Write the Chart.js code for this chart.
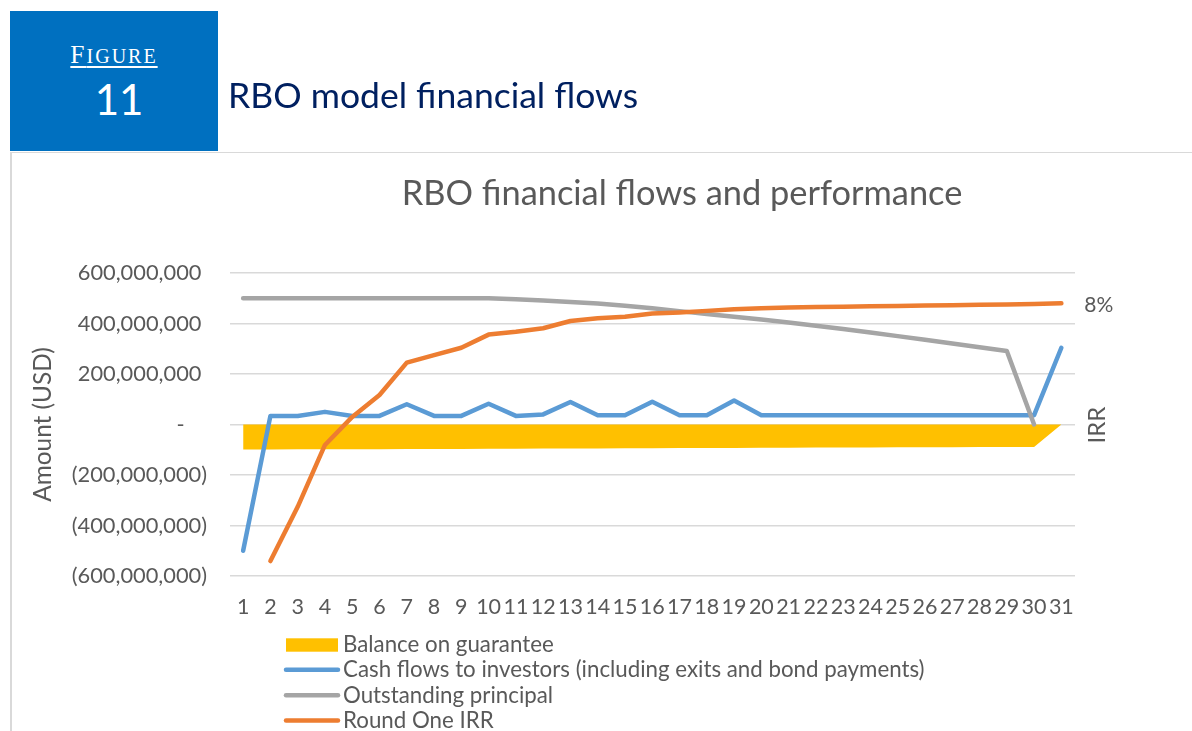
<!DOCTYPE html>
<html>
<head>
<meta charset="utf-8">
<script src="https://cdn.jsdelivr.net/npm/chart.js@4.4.1/dist/chart.umd.min.js"></script>
<style>
  html, body { margin: 0; padding: 0; background: #fff; width: 1192px; height: 731px; overflow: hidden; }
  #chart { position: absolute; left: 0; top: 0; }
  #box { position: absolute; left: 10px; top: 11px; width: 208px; height: 140px; background: #0070C0; z-index: 2; }
  #fig { position: absolute; left: 0; top: 29px; width: 208px; text-align: center; color: #fff;
         font-family: 'Liberation Serif', serif; font-size: 25.5px; line-height: 1.15; letter-spacing: 2px; }
  #fig span.u { text-decoration: underline; text-underline-offset: 3px; text-decoration-thickness: 2px; }
  #fig .sc { font-size: 20px; }
  #num { position: absolute; left: 0; top: 63px; width: 208px; text-align: center; color: #fff; padding-left: 10px; box-sizing: border-box;
         font-family: Lato, sans-serif; font-size: 42px; line-height: 1.2; }
  #head { position: absolute; left: 228px; top: 74.3px; color: #002060; font-family: Lato, sans-serif; font-size: 35.5px; line-height: 1.2; z-index: 2; white-space: nowrap; }
  #hline { position: absolute; left: 10px; top: 151.5px; width: 1182px; height: 1.5px; background: #D9D9D9; z-index: 2; }
  #vline { position: absolute; left: 10px; top: 152px; width: 1.5px; height: 579px; background: #D9D9D9; z-index: 2; }
</style>
</head>
<body>
<div id="box">
  <div id="fig"><span class="u">F<span class="sc">IGURE</span></span></div>
  <div id="num">11</div>
</div>
<div id="head">RBO model financial flows</div>
<div id="hline"></div>
<div id="vline"></div>
<canvas id="chart" width="1192" height="731"></canvas>
<script>
// ---- Data ----
const years = ['1','2','3','4','5','6','7','8','9','10','11','12','13','14','15','16','17','18','19','20','21','22','23','24','25','26','27','28','29','30','31'];

// USD millions
const balanceOnGuarantee = [-99, -99, -98.5, -98.5, -98, -98, -97.5, -97, -97, -96.5, -96, -95.5, -95.5, -95, -94.5, -94, -93.5, -93.5, -93, -92.5, -92, -91.5, -91.5, -91, -90.5, -90.5, -90, -89.5, -89, -89, 0];
const cashFlowsToInvestors = [-500, 34, 34, 50, 34, 34, 80, 34, 34, 82, 34, 40, 89, 37, 37, 90, 37, 37, 95, 37, 37, 37, 37, 37, 37, 37, 37, 37, 37, 37, 304];
const outstandingPrincipal = [500, 500, 500, 500, 500, 500, 500, 500, 500, 500, 496, 491, 485, 479, 470, 460, 449, 438, 427, 416, 404, 391, 378, 364, 350, 336, 321, 306, 291, 0, null];
// IRR as a fraction (secondary axis)
const roundOneIRR = [null, -0.941, -0.726, -0.481, -0.370, -0.283, -0.155, -0.125, -0.096, -0.044, -0.033, -0.019, 0.010, 0.021, 0.027, 0.040, 0.044, 0.050, 0.056, 0.060, 0.063, 0.065, 0.066, 0.068, 0.069, 0.071, 0.072, 0.074, 0.075, 0.077, 0.080];

const amountTicks = [-600, -400, -200, 0, 200, 400, 600]; // USD millions

const seriesNames = ['Balance on guarantee', 'Cash flows to investors (including exits and bond payments)', 'Outstanding principal', 'Round One IRR'];
const seriesColors = ['#FFC000', '#5B9BD5', '#A5A5A5', '#ED7D31'];
const chartTitle = 'RBO financial flows and performance';
const leftTitle = 'Amount (USD)';
const rightTitle = 'IRR';

const MILLION = 1e6;
const toUSD = arr => arr.map(v => v === null ? null : v * MILLION);
const TEXT = '#595959';
const FONT = 'Lato';

function amountLabel(v) {
  if (v === 0) return '-    ';
  const s = Math.abs(v).toLocaleString('en-US');
  return v < 0 ? '(' + s + ')' : s + ' ';
}

const overlay = {
  id: 'overlay',
  afterDraw(chart) {
    const ctx = chart.ctx;
    ctx.save();
    // chart title
    ctx.fillStyle = TEXT;
    ctx.font = '34.4px ' + FONT;
    ctx.textAlign = 'center';
    ctx.textBaseline = 'alphabetic';
    ctx.fillText(chartTitle, 682, 205);

    // secondary axis title (rotated like Excel)
    ctx.save();
    ctx.translate(1097, 425);
    ctx.rotate(-Math.PI / 2);
    ctx.font = '24px ' + FONT;
    ctx.textBaseline = 'middle';
    ctx.textAlign = 'center';
    ctx.fillText(rightTitle, 0, 0);
    ctx.restore();

    // data label on last IRR point
    const meta = chart.getDatasetMeta(3);
    const lastIdx = roundOneIRR.length - 1;
    const pt = meta.data[lastIdx];
    ctx.font = '21px ' + FONT;
    ctx.textAlign = 'left';
    ctx.textBaseline = 'middle';
    ctx.fillText(Math.round(roundOneIRR[lastIdx] * 100) + '%', pt.x + 23, pt.y + 2);

    // legend (vertical list, bottom-left)
    chart.data.datasets.forEach((ds, i) => {
      const base = 651.7 + i * 25.4;
      if (ds.fill) {
        ctx.fillStyle = ds.backgroundColor;
        ctx.fillRect(286, base - 13.4, 52, 13.4);
      } else {
        ctx.strokeStyle = ds.borderColor;
        ctx.lineWidth = 4.5;
        ctx.lineCap = 'round';
        ctx.beginPath();
        ctx.moveTo(286, base - 7.3);
        ctx.lineTo(338, base - 7.3);
        ctx.stroke();
      }
      ctx.fillStyle = TEXT;
      ctx.font = '22.3px ' + FONT;
      ctx.textAlign = 'left';
      ctx.textBaseline = 'alphabetic';
      ctx.fillText(ds.label, 343, base);
    });
    ctx.restore();
  }
};

Chart.defaults.font.family = FONT;
Chart.defaults.color = TEXT;

new Chart(document.getElementById('chart'), {
  type: 'line',
  data: {
    labels: years,
    datasets: [
      { label: seriesNames[0], data: toUSD(balanceOnGuarantee), yAxisID: 'y', fill: 'origin',
        backgroundColor: seriesColors[0], borderColor: 'rgba(0,0,0,0)', borderWidth: 0, order: 4 },
      { label: seriesNames[1], data: toUSD(cashFlowsToInvestors), yAxisID: 'y', fill: false,
        borderColor: seriesColors[1], backgroundColor: seriesColors[1], borderWidth: 4.5, order: 3 },
      { label: seriesNames[2], data: toUSD(outstandingPrincipal), yAxisID: 'y', fill: false,
        borderColor: seriesColors[2], backgroundColor: seriesColors[2], borderWidth: 4.5, order: 2 },
      { label: seriesNames[3], data: roundOneIRR, yAxisID: 'y1', fill: false,
        borderColor: seriesColors[3], backgroundColor: seriesColors[3], borderWidth: 4.5, order: 1 }
    ]
  },
  options: {
    responsive: false,
    animation: false,
    devicePixelRatio: 1,
    layout: { padding: { top: 273, right: 117, left: 0, bottom: 0 } },
    elements: {
      line: { tension: 0, borderCapStyle: 'round', borderJoinStyle: 'round' },
      point: { radius: 0, hoverRadius: 0 }
    },
    plugins: { legend: { display: false }, tooltip: { enabled: false }, title: { display: false } },
    scales: {
      x: {
        type: 'category', offset: true,
        grid: { display: false, drawTicks: false },
        border: { display: false },
        ticks: { font: { size: 21.5 }, color: TEXT, padding: 18, maxRotation: 0, autoSkip: false },
        afterFit(s) { s.height = 155; }
      },
      y: {
        position: 'left',
        min: amountTicks[0] * MILLION, max: amountTicks[amountTicks.length - 1] * MILLION,
        afterBuildTicks(s) { s.ticks = amountTicks.map(v => ({ value: v * MILLION })); },
        ticks: { callback: v => amountLabel(v), font: { size: 21.8 }, color: TEXT, padding: 22.5 },
        grid: { color: '#D9D9D9', lineWidth: 1.5, drawTicks: false },
        border: { display: false },
        title: { display: true, text: leftTitle, font: { size: 24.4 }, color: TEXT, padding: { top: 29, bottom: 0 } },
        afterFit(s) { s.width = 229.5; }
      },
      y1: {
        position: 'right', display: false, min: -1, max: 0.2,
        grid: { drawOnChartArea: false }
      }
    }
  },
  plugins: [overlay]
});
</script>
</body>
</html>
